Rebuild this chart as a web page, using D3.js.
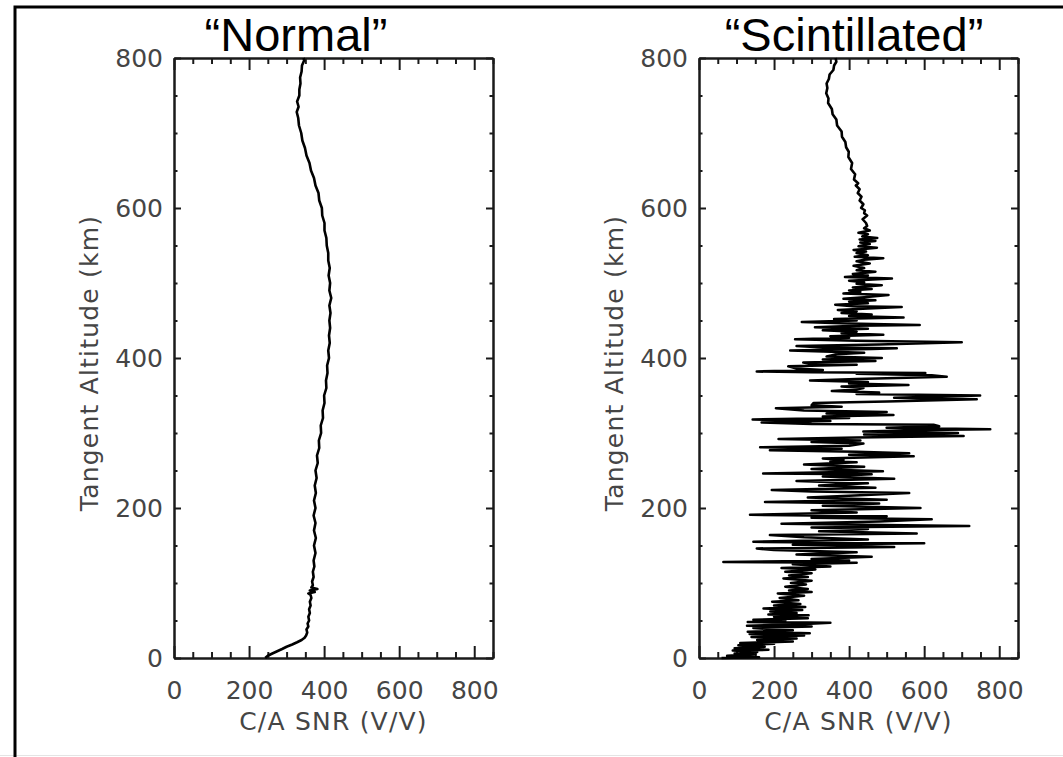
<!DOCTYPE html>
<html>
<head>
<meta charset="utf-8">
<script src="https://cdn.jsdelivr.net/npm/d3@7"></script>
<style>
  body { margin: 0; background: #fff; }
  svg { display: block; }
</style>
</head>
<body>
<div id="chart"></div>
<script>
// tick labels shared by both panels
const altTicks = [0, 200, 400, 600, 800];
const snrTicks = [0, 200, 400, 600, 800];

// "Normal" occultation profile (altitude km, SNR V/V)
const normalAlt = [0, 3, 6, 9, 12, 15, 18, 21, 24, 27, 30, 34, 38, 42, 46, 50, 55, 60, 65, 70, 75, 80, 84, 86, 88, 90, 92, 94, 97, 102, 108, 115, 122, 130, 140, 150, 160, 170, 180, 190, 200, 210, 220, 230, 240, 250, 260, 270, 280, 290, 300, 310, 320, 330, 340, 350, 360, 370, 380, 390, 400, 410, 420, 430, 440, 450, 460, 470, 480, 490, 500, 510, 520, 530, 540, 550, 560, 570, 580, 590, 600, 610, 620, 630, 640, 650, 660, 670, 680, 690, 700, 710, 720, 728, 735, 742, 750, 758, 766, 774, 782, 790, 797, 800];
const normalSnr = [243, 250, 262, 275, 288, 300, 315, 328, 340, 348, 352, 355, 353, 358, 356, 360, 358, 362, 360, 364, 362, 366, 364, 358, 375, 362, 382, 366, 370, 368, 372, 370, 374, 372, 377, 373, 378, 373, 377, 372, 377, 373, 378, 375, 380, 377, 383, 381, 387, 386, 392, 391, 397, 396, 401, 400, 406, 405, 409, 408, 413, 411, 415, 413, 416, 414, 417, 414, 419, 414, 416, 412, 415, 411, 411, 407, 406, 401, 401, 395, 394, 387, 385, 377, 373, 365, 361, 353, 349, 342, 339, 333, 331, 327, 332, 328, 334, 334, 337, 336, 340, 341, 347, 345];

// "Scintillated" occultation profile
const scintAlt = [0, 1, 3, 5, 6, 8, 10, 11, 13, 15, 17, 19, 20, 22, 24, 26, 28, 30, 32, 33, 35, 37, 40, 42, 43, 45, 47, 48, 50, 51, 53, 55, 57, 58, 60, 62, 64, 66, 68, 70, 72, 75, 77, 80, 83, 86, 88, 90, 92, 95, 98, 100, 103, 106, 108, 110, 113, 115, 118, 120, 122, 125, 127, 128, 130,
  132, 135, 138, 141, 144, 146, 148, 151, 153, 155, 158, 161, 164, 166, 169, 172, 174, 176, 178, 179, 182, 185, 187, 189, 191, 194, 197, 200, 203, 206, 208, 211, 214, 217, 220, 222, 224, 227, 230, 233, 236, 239, 242, 245, 246, 249, 252, 255, 258, 261,
  262, 264, 266, 269, 271, 273, 275, 277, 279, 281, 283, 286, 288, 290, 292, 294, 296, 298, 300, 302, 304, 305, 307, 309, 311, 312, 314, 316, 318, 320, 322, 324, 326, 328, 330, 333, 335, 337, 340, 342, 345, 347, 350, 352, 354, 356, 358, 360, 362, 364, 366, 368, 370, 372, 375, 377, 379, 380, 381, 382, 384, 386, 389, 391, 392, 394, 396, 398, 400, 402, 405, 407, 410, 412, 413, 414, 416, 418, 421, 423, 425, 427, 429, 431, 433, 435, 437, 439, 441, 443, 444, 446, 448, 450, 452, 454, 456, 458, 460, 462, 464, 466, 468, 469, 471, 473, 475, 477, 479, 481, 484, 486, 488, 490, 492, 494, 497, 499, 501, 503, 506, 508, 510, 512, 515, 517, 520, 523, 526, 529, 531, 533, 535, 537, 540, 542, 544, 547, 549, 552, 554, 556, 558, 560, 562, 565, 567, 570, 573, 576,
  580, 585, 590, 593, 597, 600, 605, 610, 615, 620, 625, 630, 633, 638, 645, 652, 660, 668, 675, 681, 688, 695, 702, 710, 718, 725, 732, 740, 746, 753, 760, 766, 772, 778, 784, 790, 795, 800];
const scintSnr = [60, 160, 75, 150, 95, 155, 90, 185, 95, 175, 105, 200, 110, 250, 155, 260, 140, 280, 135, 295, 130, 250, 145, 300, 128, 270, 350, 130, 230, 145, 290, 200, 292, 185, 260, 190, 275, 172, 283, 200, 270, 195, 265, 215, 280, 210, 300, 240, 290, 230, 285, 245, 300, 225, 290, 240, 300, 230, 310, 220, 350, 250, 420, 65, 400,
  300, 460, 260, 420, 200, 154, 520, 250, 600, 145, 450, 280, 189, 580, 320, 450, 300, 720, 380, 220, 480, 620, 300, 500, 136, 420, 300, 590, 330, 480, 176, 500, 290, 430, 560, 300, 194, 470, 320, 450, 260, 520, 330, 460, 171, 490, 300, 440, 280, 420,
  350, 385, 330, 572, 400, 560, 420, 189, 380, 163, 400, 438, 300, 430, 212, 420, 705, 440, 690, 438, 600, 776, 500, 640, 625, 300, 167, 350, 143, 400, 330, 518, 340, 500, 280, 205, 380, 300, 305, 500, 740, 520, 749, 420, 480, 354, 420, 438, 380, 558, 400, 450, 296, 420, 660, 620, 420, 603, 300, 154, 330, 260, 238, 420, 300, 278, 470, 330, 487, 340, 367, 440, 243, 460, 527, 330, 260, 480, 700, 420, 256, 400, 350, 491, 380, 420, 330, 450, 309, 420, 588, 400, 274, 420, 360, 545, 400, 460, 380, 420, 370, 450, 540, 410, 363, 450, 400, 470, 385, 440, 505, 385, 430, 400, 460, 410, 487, 420, 440, 400, 514, 389, 450, 410, 470, 420, 440, 412, 455, 420, 440, 491, 415, 450, 420, 445, 412, 474, 425, 455, 430, 470, 428, 475, 435, 450, 425, 455, 440, 448,
  445, 436, 448, 440, 442, 432, 438, 428, 433, 423, 428, 418, 424, 413, 416, 405, 408, 398, 399, 392, 390, 381, 380, 368, 366, 356, 354, 344, 345, 339, 342, 340, 346, 348, 358, 360, 366, 364];

const W = 1063, H = 757;
const plotTop = 58, plotBottom = 658, plotW = 319;
const fontAxis = "'DejaVu Sans', sans-serif";
const fontTitle = "'Liberation Sans', Arial, sans-serif";

const svg = d3.select("#chart").append("svg")
    .attr("width", W)
    .attr("height", H);

// outer frame (only top and left edges are inside the picture)
svg.append("line").attr("x1", 0).attr("x2", W).attr("y1", 755.5).attr("y2", 755.5)
    .attr("stroke", "#e4e4e4").attr("stroke-width", 1);
svg.append("path")
    .attr("d", `M15,${H} V7 H${W}`)
    .attr("fill", "none")
    .attr("stroke", "#000")
    .attr("stroke-width", 3);

function drawPanel(x0, title, titleX, alts, snrs) {
    const x = d3.scaleLinear().domain([0, 850]).range([x0, x0 + plotW]);
    const y = d3.scaleLinear().domain([0, 800]).range([plotBottom, plotTop]);
    const minorX = d3.range(0, 851, 50).filter(v => v % 200 !== 0);
    const minorY = d3.range(0, 801, 50).filter(v => v % 200 !== 0);
    const g = svg.append("g");

    const styleAxis = sel => {
        sel.selectAll("path.domain").attr("stroke", "#1a1a1a").attr("stroke-width", 2);
        sel.selectAll(".tick line").attr("stroke", "#1a1a1a").attr("stroke-width", 2);
        sel.selectAll(".tick text")
            .attr("fill", "#454545")
            .style("font-family", fontAxis)
            .style("font-size", "25px");
    };

    // bottom
    g.append("g").attr("transform", `translate(0,${plotBottom})`)
        .call(d3.axisBottom(x).tickValues(snrTicks).tickSizeInner(-12).tickSizeOuter(0).tickPadding(23).tickFormat(d3.format("d")))
        .call(styleAxis);
    g.append("g").attr("transform", `translate(0,${plotBottom})`)
        .call(d3.axisBottom(x).tickValues(minorX).tickSizeInner(-6).tickSizeOuter(0).tickFormat(""))
        .call(styleAxis);
    // top
    g.append("g").attr("transform", `translate(0,${plotTop})`)
        .call(d3.axisTop(x).tickValues(snrTicks).tickSizeInner(-12).tickSizeOuter(0).tickFormat(""))
        .call(styleAxis);
    g.append("g").attr("transform", `translate(0,${plotTop})`)
        .call(d3.axisTop(x).tickValues(minorX).tickSizeInner(-6).tickSizeOuter(0).tickFormat(""))
        .call(styleAxis);
    // left
    g.append("g").attr("transform", `translate(${x0},0)`)
        .call(d3.axisLeft(y).tickValues(altTicks).tickSizeInner(-7).tickSizeOuter(0).tickPadding(11).tickFormat(d3.format("d")))
        .call(styleAxis);
    g.append("g").attr("transform", `translate(${x0},0)`)
        .call(d3.axisLeft(y).tickValues(minorY).tickSizeInner(-3.5).tickSizeOuter(0).tickFormat(""))
        .call(styleAxis);
    // right
    g.append("g").attr("transform", `translate(${x0 + plotW},0)`)
        .call(d3.axisRight(y).tickValues(altTicks).tickSizeInner(-7).tickSizeOuter(0).tickFormat(""))
        .call(styleAxis);
    g.append("g").attr("transform", `translate(${x0 + plotW},0)`)
        .call(d3.axisRight(y).tickValues(minorY).tickSizeInner(-3.5).tickSizeOuter(0).tickFormat(""))
        .call(styleAxis);

    // profile
    const line = d3.line()
        .x(i => x(snrs[i]))
        .y(i => y(alts[i]));
    g.append("path")
        .attr("d", line(d3.range(alts.length)))
        .attr("fill", "none")
        .attr("stroke", "#000")
        .attr("stroke-width", 2.6)
        .attr("stroke-linejoin", "round");

    // axis titles
    g.append("text")
        .attr("x", x0 + plotW / 2)
        .attr("y", 730)
        .attr("text-anchor", "middle")
        .attr("fill", "#454545")
        .style("font-family", fontAxis)
        .style("font-size", "25px")
        .style("letter-spacing", "1.2px")
        .text("C/A SNR (V/V)");
    g.append("text")
        .attr("transform", `translate(${x0 - 76},363) rotate(-90)`)
        .attr("text-anchor", "middle")
        .attr("fill", "#454545")
        .style("font-family", fontAxis)
        .style("font-size", "25px")
        .style("letter-spacing", "1.2px")
        .text("Tangent Altitude (km)");

    // panel title
    g.append("text")
        .attr("x", titleX)
        .attr("y", 51)
        .attr("text-anchor", "middle")
        .attr("fill", "#000")
        .style("font-family", fontTitle)
        .style("font-size", "47px")
        .text(title);
}

drawPanel(174, "\u201CNormal\u201D", 296, normalAlt, normalSnr);
drawPanel(699, "\u201CScintillated\u201D", 854, scintAlt, scintSnr);
</script>
</body>
</html>
